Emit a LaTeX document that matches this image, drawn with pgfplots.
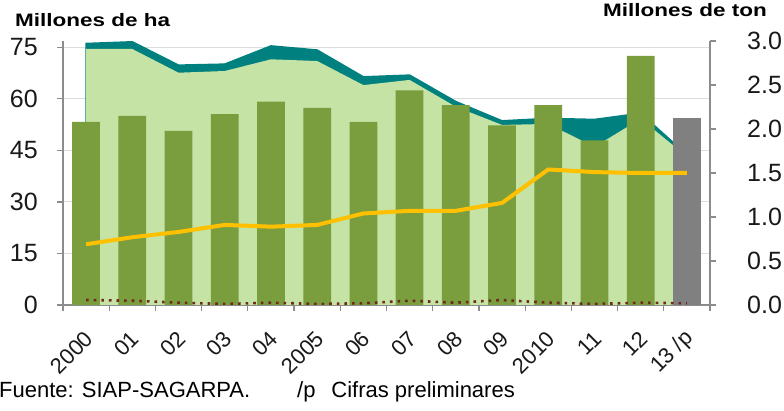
\documentclass[border=0pt]{standalone}
\usepackage{fontspec}
\setmainfont{Liberation Sans}
\newfontfamily\widefont[FakeStretch=1.25]{Liberation Sans}
\usepackage{pgfplots}
\usepackage{pgfplotstable}
\pgfplotsset{compat=1.18}

\definecolor{areagreen}{HTML}{C4E3A4}
\definecolor{lossteal}{HTML}{00807F}
\definecolor{bargreen}{HTML}{7A9D3E}
\definecolor{bargray}{HTML}{808080}
\definecolor{lineyellow}{HTML}{FFC000}
\definecolor{dotbrown}{HTML}{6E2A1E}
\definecolor{axisgray}{HTML}{8C8C8C}
\definecolor{gridgray}{HTML}{DCDCDC}

% superficie (millones de ha)
\pgfplotstableread{
x sembrada cosechada
0  76.1 74.5
1  76.6 74.5
2  69.8 67.6
3  70.1 68.1
4  75.4 71.5
5  74.2 71.0
6  66.4 64.0
7  66.9 65.5
8  59.2 57.7
9  53.6 52.4
10 54.3 52.7
11 54.0 46.0
12 55.8 54.2
13 43.7 43.2
}\superficie

% produccion y rendimiento (millones de ton)
\pgfplotstableread{
x prod rend
0  2.08 0.69
1  2.15 0.77
2  1.98 0.83
3  2.17 0.91
4  2.31 0.89
5  2.24 0.91
6  2.08 1.04
7  2.44 1.07
8  2.27 1.07
9  2.04 1.16
10 2.27 1.54
11 1.87 1.51
12 2.83 1.50
}\produccion

\pgfplotstableread{
x otro
0  1.45
1  1.25
2  0.67
3  0.30
4  0.67
5  0.30
6  0.50
7  1.25
8  0.67
9  1.45
10 0.67
11 0.30
12 0.67
13 0.50
}\otro

\pgfplotsset{
  common/.style={
    at={(63pt,106pt)}, anchor=south west,
    scale only axis, width=647pt, height=264pt,
    xmin=-0.5, xmax=13.5,
    /pgf/number format/assume math mode=true,
    axis line style={draw=axisgray, line width=1.2pt, -},
    tick style={draw=axisgray, line width=1.2pt},
    tick align=outside,
    major tick length=6pt, minor tick length=6pt,
  }
}

\begin{document}
\begin{tikzpicture}
\useasboundingbox (0,0) rectangle (784pt,411pt);

% eje izquierdo: superficie
\begin{axis}[common,
  ymin=0, ymax=76.83,
  axis x line*=bottom, axis y line*=left,
  ytick={0,15,...,75},
  ymajorgrids, grid style={draw=gridgray, line width=1pt},
  xtick={0,...,13},
  xticklabels={2000,01,02,03,04,2005,06,07,08,09,2010,11,12,13 /p},
  minor xtick={-0.5,0.5,...,13.5},
  every major x tick/.append style={draw=none},
  yticklabel style={font=\fontsize{25}{27}\selectfont, text=black!90, inner sep=0pt},
  yticklabel shift=19pt,
  xticklabel style={font=\fontsize{22}{24}\selectfont, text=black!90, inner sep=0pt,
    yshift=-24pt, xshift=3pt, rotate=45, anchor=east},
]
\addplot[fill=lossteal, draw=lossteal, line width=1.5pt] table[x=x, y=sembrada] {\superficie} \closedcycle;
\addplot[fill=areagreen, draw=none] table[x=x, y=cosechada] {\superficie} \closedcycle;
\end{axis}

% eje derecho: produccion
\begin{axis}[common,
  ymin=0, ymax=3,
  axis x line=none, axis y line*=right,
  ytick={0,0.5,...,3},
  yticklabel style={font=\fontsize{25}{27}\selectfont, text=black!90, inner sep=0pt,
    /pgf/number format/.cd, fixed, fixed zerofill, precision=1},
  yticklabel shift=31pt,
]
\addplot[ybar, bar width=0.6, bar shift=0pt, fill=bargreen, draw=none] table[x=x, y=prod] {\produccion};
\addplot[ybar, bar width=0.6, bar shift=0pt, fill=bargray, draw=none] coordinates {(13,2.13)};
\addplot[lineyellow, line width=4pt, line join=round] table[x=x, y=rend] {\produccion} -- (axis cs:13,1.50);
\end{axis}

% serie menor, escala izquierda
\begin{axis}[common, ymin=0, ymax=76.83, hide axis]
\addplot[dotbrown, line width=2.6pt, dash pattern=on 2.6pt off 5pt] table[x=x, y=otro] {\otro};
\end{axis}

\node[anchor=base west, inner sep=0pt] at (15pt,384pt)
  {\widefont\bfseries\fontsize{18}{20}\selectfont Millones de ha};
\node[anchor=base east, inner sep=0pt] at (767pt,394pt)
  {\widefont\bfseries\fontsize{18}{20}\selectfont Millones de ton};
\node[anchor=base west, inner sep=0pt] at (-1pt,13pt)
  {\fontsize{22}{24}\selectfont Fuente: SIAP-SAGARPA.};
\node[anchor=base west, inner sep=0pt] at (297pt,13pt)
  {\fontsize{22}{24}\selectfont /p\ \ \,Cifras preliminares};
\end{tikzpicture}
\end{document}
